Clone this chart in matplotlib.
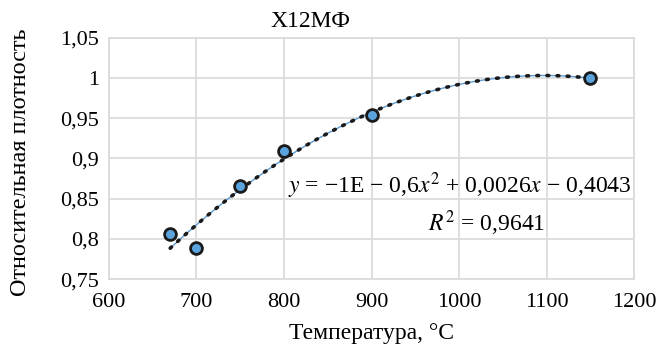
import numpy as np
import matplotlib
matplotlib.use("Agg")
import matplotlib.pyplot as plt

plt.rcParams['font.family'] = ['Liberation Serif', 'DejaVu Serif']

# data
temp = [670, 700, 750, 800, 900, 1150]
density = [0.806, 0.789, 0.866, 0.909, 0.954, 1.0]
xticks = [600, 700, 800, 900, 1000, 1100, 1200]
yticks = [0.75, 0.8, 0.85, 0.9, 0.95, 1.0, 1.05]
ytick_labels = ['0,75', '0,8', '0,85', '0,9', '0,95', '1', '1,05']
title = 'Х12МФ'
eq_text = r'$y$ = −1E − 0,6$x^2$ + 0,0026$x$ − 0,4043'
r2_text = r'$R^2$ = 0,9641'

fig = plt.figure(figsize=(6.6, 3.61), dpi=100)
ax = fig.add_axes([0.165, 0.227, 0.796, 0.668])

# quadratic trend line
coef = np.polyfit(temp, density, 2)
xs = np.linspace(min(temp), max(temp), 200)
ys = np.polyval(coef, xs)
ax.plot(xs, ys, color='#5b9bd5', lw=1.0, zorder=2)
ax.plot(xs, ys, color='#1a1a1a', lw=2.6, ls=(0, (0.5, 2.3)),
        dash_capstyle='round', zorder=3)

ax.plot(temp, density, 'o', ms=8.5, mfc='#5ba3dc', mec='#1a1a1a', mew=2,
        zorder=4)

ax.set_xlim(600, 1200)
ax.set_ylim(0.75, 1.05)
ax.set_xticks(xticks)
ax.set_yticks(yticks)
ax.set_yticklabels(ytick_labels)
ax.tick_params(labelsize=16, length=0)
ax.tick_params(axis='x', pad=10)
ax.tick_params(axis='y', pad=7)
ax.grid(color='#d9d9d9', lw=1.2)
ax.set_axisbelow(True)
for s in ax.spines.values():
    s.set_color('#d9d9d9')
    s.set_linewidth(1.2)

ax.set_title(title, fontsize=17, pad=8)
ax.title.set_x(0.383)
ax.set_xlabel('Температура, °С', fontsize=17, labelpad=8)
ax.set_ylabel('Относительная плотность', fontsize=17.5)
ax.yaxis.label.set_va('center')
ax.yaxis.set_label_coords(-0.168, 0.485)

ax.text(1197, 0.866, eq_text, fontsize=17, ha='right', va='center',
        math_fontfamily='stix')
ax.text(1031, 0.82, r2_text, fontsize=17, ha='center', va='center',
        math_fontfamily='stix')

fig.savefig('out.png', dpi=100)
